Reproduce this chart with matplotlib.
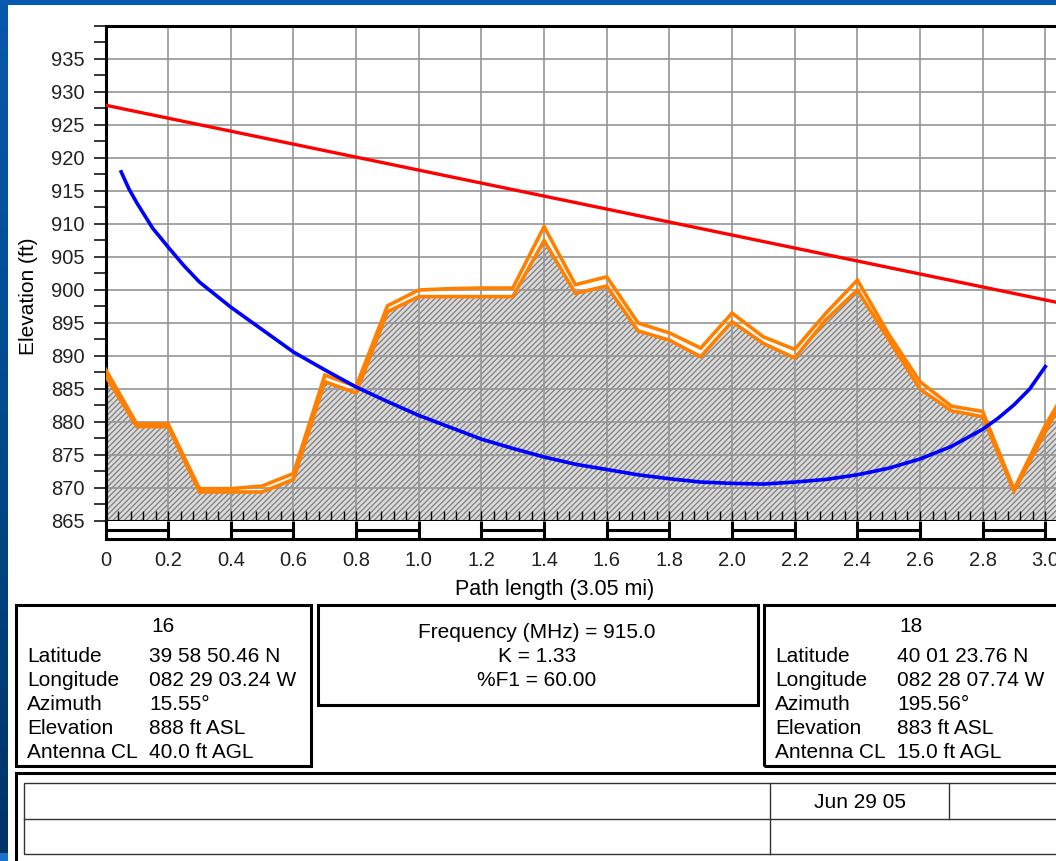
import numpy as np
import matplotlib
matplotlib.use('Agg')
import matplotlib.pyplot as plt
from matplotlib.patches import Rectangle
from matplotlib.lines import Line2D
from matplotlib.colors import LinearSegmentedColormap
from matplotlib.ticker import MultipleLocator, FuncFormatter

plt.rcParams['font.family'] = ['Liberation Sans', 'DejaVu Sans']
plt.rcParams['hatch.linewidth'] = 1.0

# ── Profile data ────────────────────────────────────────────────────────────
path_mi = [0.0, 0.1, 0.2, 0.3, 0.4, 0.5, 0.6, 0.7, 0.8, 0.9, 1.0, 1.1, 1.2,
           1.3, 1.4, 1.5, 1.6, 1.7, 1.8, 1.9, 2.0, 2.1, 2.2, 2.3, 2.4, 2.5,
           2.6, 2.7, 2.8, 2.9, 3.0, 3.05]
# ground (top of hatched fill)
terrain_ft = [887.0, 879.3, 879.3, 869.4, 869.4, 869.4, 871.3, 886.1, 884.4,
              896.7, 899.0, 899.0, 899.0, 899.0, 907.5, 899.5, 900.6, 893.8,
              892.4, 889.9, 895.2, 891.9, 889.7, 895.5, 900.0, 892.5, 885.0,
              881.7, 880.8, 869.5, 878.5, 883.0]
# second orange trace just above the ground
terrain_top_ft = [888.0, 879.7, 879.7, 869.9, 869.9, 870.3, 872.2, 887.1, 885.4,
                  897.6, 900.0, 900.2, 900.3, 900.3, 909.6, 900.8, 902.0, 895.0,
                  893.5, 891.2, 896.5, 892.9, 891.0, 896.5, 901.5, 893.3, 886.1,
                  882.4, 881.6, 869.8, 879.5, 883.5]

# 60 % first Fresnel zone (lower edge)
fresnel_mi = [0.05, 0.075, 0.1, 0.15, 0.2, 0.25, 0.3, 0.4, 0.5, 0.6, 0.7, 0.8,
              0.9, 1.0, 1.1, 1.2, 1.3, 1.4, 1.5, 1.6, 1.7, 1.8, 1.9, 2.0, 2.1,
              2.2, 2.3, 2.4, 2.5, 2.6, 2.7, 2.8, 2.85, 2.9, 2.95, 3.0]
fresnel_ft = [917.9, 915.3, 913.2, 909.4, 906.5, 903.7, 901.2, 897.4, 894.0,
              890.6, 887.9, 885.3, 883.1, 881.0, 879.2, 877.4, 876.0, 874.7,
              873.6, 872.8, 872.0, 871.4, 870.9, 870.7, 870.6, 870.9, 871.3,
              872.0, 873.0, 874.4, 876.3, 878.9, 880.6, 882.6, 885.0, 888.4]

# line of sight
los_mi = [0.0, 3.05]
los_ft = [928.0, 898.0]

x_ticks = [0.0, 0.2, 0.4, 0.6, 0.8, 1.0, 1.2, 1.4, 1.6, 1.8, 2.0, 2.2, 2.4,
           2.6, 2.8, 3.0]
y_ticks = [865, 870, 875, 880, 885, 890, 895, 900, 905, 910, 915, 920, 925,
           930, 935]
scale_starts = [0.0, 0.4, 0.8, 1.2, 1.6, 2.0, 2.4, 2.8]

# ── Site / radio info ───────────────────────────────────────────────────────
site_labels = ['Latitude', 'Longitude', 'Azimuth', 'Elevation', 'Antenna CL']
site16_values = ['39 58 50.46 N', '082 29 03.24 W', '15.55°', '888 ft ASL',
                 '40.0 ft AGL']
site18_values = ['40 01 23.76 N', '082 28 07.74 W', '195.56°', '883 ft ASL',
                 '15.0 ft AGL']
radio_lines = ['Frequency (MHz) = 915.0', 'K = 1.33', '%F1 = 60.00']
date_text = 'Jun 29 05'

# ── Figure helpers (pixel -> figure fraction) ──────────────────────────────
W, H = 1056, 861
fig = plt.figure(figsize=(W / 100, H / 100), dpi=100)
fig.patch.set_facecolor('white')


def fx(px):
    return px / W


def fy(py):
    return 1 - py / H


def box(x0, y0, x1, y1, lw=2.2, color='black'):
    fig.add_artist(Rectangle((fx(x0), fy(y1)), fx(x1) - fx(x0), fy(y0) - fy(y1),
                             transform=fig.transFigure, fill=False, lw=lw,
                             edgecolor=color, clip_on=False))


def hline(x0, x1, y, lw=1.0, color='#333333'):
    fig.add_artist(Line2D([fx(x0), fx(x1)], [fy(y), fy(y)],
                          transform=fig.transFigure, lw=lw, color=color))


def vline(x, y0, y1, lw=1.0, color='#333333'):
    fig.add_artist(Line2D([fx(x), fx(x)], [fy(y0), fy(y1)],
                          transform=fig.transFigure, lw=lw, color=color))


# ── Slide background bits ──────────────────────────────────────────────────
fig.add_artist(Rectangle((0, fy(5)), 1, 5 / H, transform=fig.transFigure,
                         color='#0658b0', lw=0))
bg = fig.add_axes([0, fy(853), fx(8), fy(0) - fy(853)])
grad = np.linspace(0, 1, 256).reshape(-1, 1)
bg.imshow(grad, aspect='auto',
          cmap=LinearSegmentedColormap.from_list('slide', ['#0858ac', '#004a8c', '#003366']))
bg.axis('off')
fig.add_artist(Rectangle((0, 0), fx(8), 8 / H, transform=fig.transFigure,
                         color='#1a74cc', lw=0))

# ── Main profile axes ──────────────────────────────────────────────────────
ax = fig.add_axes([fx(105.5), fy(521), fx(1061) - fx(105.5), fy(26) - fy(521)])
ax.set_xlim(0, 3.05)
ax.set_ylim(865, 940)

ax.fill_between(path_mi, terrain_ft, 865, facecolor='#dcdcdc',
                edgecolor='#858585', hatch='//////', linewidth=0, zorder=1)
ax.plot(path_mi, terrain_top_ft, color='#ff8000', lw=2.6, zorder=3,
        solid_joinstyle='miter')
ax.plot(path_mi, terrain_ft, color='#ff8000', lw=2.6, zorder=3,
        solid_joinstyle='miter')
ax.plot(fresnel_mi, fresnel_ft, color='#0000ff', lw=2.6, zorder=4)
ax.plot(los_mi, los_ft, color='#ff0000', lw=2.4, zorder=5)

ax.set_yticks(y_ticks)
ax.yaxis.set_minor_locator(MultipleLocator(2.5))
ax.tick_params(axis='y', which='both', direction='out', length=8.3, width=1.1,
               color='black', pad=7, labelsize=14.5, labelcolor='#222222')
ax.set_xticks(x_ticks)
ax.xaxis.set_minor_locator(MultipleLocator(0.04))
ax.tick_params(axis='x', which='both', direction='in', length=7.2, width=1.0,
               color='black', labelbottom=False)
ax.grid(True, which='major', color='#959595', lw=1.2)
ax.set_axisbelow('line')
for s in ax.spines.values():
    s.set_linewidth(2.2)
    s.set_color('black')

# ── Scale bar strip under the profile ──────────────────────────────────────
sx = fig.add_axes([fx(105.5), fy(539), fx(1061) - fx(105.5), fy(521) - fy(539)])
sx.set_xlim(0, 3.05)
sx.set_ylim(0, 1)
sx.set_yticks([])
sx.set_xticks(x_ticks)
sx.xaxis.set_major_formatter(FuncFormatter(lambda v, p: '0' if v == 0 else f'{v:.1f}'))
sx.tick_params(axis='x', length=0, pad=9, labelsize=14.5, labelcolor='#222222')
for start in scale_starts:
    sx.hlines(0.5, start, start + 0.2, color='black', lw=2.2)
sx.vlines(x_ticks[1:], 0, 1, color='black', lw=2.2)
sx.spines['top'].set_visible(False)
for s in ('bottom', 'left', 'right'):
    sx.spines[s].set_linewidth(2.2)

fig.text(fx(29), fy(296), 'Elevation (ft)', rotation=90, ha='center',
         va='center', fontsize=15)
fig.text(fx(555), fy(590), 'Path length (3.05 mi)', ha='center', va='center',
         fontsize=15.5)

# ── Info boxes ─────────────────────────────────────────────────────────────
box(16, 605, 311, 766)
box(318, 605, 758, 705)
box(764, 605, 1075, 766)

row_base = [661.7, 685.9, 710.1, 734.3, 758.5]
fig.text(fx(163), fy(631.7), '16', ha='center', va='baseline', fontsize=15)
fig.text(fx(911), fy(631.7), '18', ha='center', va='baseline', fontsize=15)
for lab, v16, v18, yb in zip(site_labels, site16_values, site18_values, row_base):
    fig.text(fx(27), fy(yb), lab, ha='left', va='baseline', fontsize=15)
    fig.text(fx(149), fy(yb), v16, ha='left', va='baseline', fontsize=15)
    fig.text(fx(775), fy(yb), lab, ha='left', va='baseline', fontsize=15)
    fig.text(fx(897), fy(yb), v18, ha='left', va='baseline', fontsize=15)

for line, yb in zip(radio_lines, [637.5, 661.7, 685.9]):
    fig.text(fx(537), fy(yb), line, ha='center', va='baseline', fontsize=15)

# ── Bottom title block ─────────────────────────────────────────────────────
box(16, 773, 1075, 900)
box(24, 783, 1070, 854, lw=1.0, color='#333333')
hline(24, 1070, 819)
vline(770, 783, 854)
vline(949, 783, 819)
fig.text(fx(859.5), fy(808), date_text, ha='center', va='baseline', fontsize=15)

fig.savefig('out.png', dpi=100)
